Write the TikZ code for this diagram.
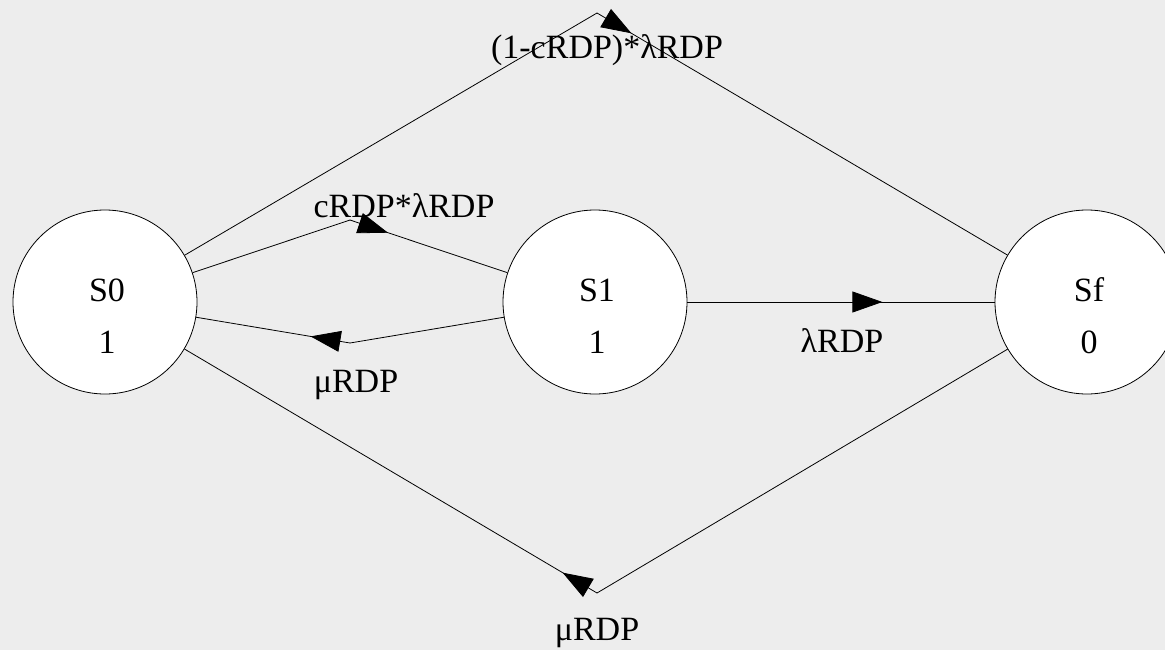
\documentclass[tikz,border=0pt]{standalone}
\usepackage{fontspec}
\setmainfont{Liberation Serif}
\usetikzlibrary{arrows.meta,decorations.markings}
\definecolor{bg}{RGB}{237,237,237}
\begin{document}
\begin{tikzpicture}[x=1pt,y=-1pt,
  state/.style={circle,draw=black,line width=0.8pt,fill=white,minimum size=184pt,inner sep=0pt},
  lbl/.style={font=\fontsize{34}{40}\selectfont,inner sep=0pt,anchor=base},
  edge/.style={draw=black,line width=0.8pt},
  tipmark/.style={postaction={decorate},decoration={markings,mark=at position #1 with {\arrow{Triangle[length=30pt,width=21pt]}}}},
  tipmark/.default=40pt
]
\fill[bg] (0,0) rectangle (1165,650);
\useasboundingbox (0,0) rectangle (1165,650);

\node[state] (S0) at (105,302) {};
\node[state] (S1) at (595,302) {};
\node[state] (Sf) at (1087,302) {};

\node[lbl] (S0name) at (107,301) {S0};
\node[lbl] (S0val) at (107,353) {1};
\node[lbl] (S1name) at (597,301) {S1};
\node[lbl] (S1val) at (597,353) {1};
\node[lbl] (Sfname) at (1089,301) {Sf};
\node[lbl] (Sfval) at (1089,353) {0};

\coordinate (a1) at (597,13);
\coordinate (a2) at (350,220);
\coordinate (a3) at (350,343);
\coordinate (a4) at (597,593);

\draw[edge] (S0) -- (a1);
\draw[edge,tipmark] (a1) -- (Sf);
\draw[edge] (S0) -- (a2);
\draw[edge,tipmark] (a2) -- (S1);
\draw[edge] (S1) -- (a3);
\draw[edge,tipmark] (a3) -- (S0);
\draw[edge] (Sf) -- (a4);
\draw[edge,tipmark] (a4) -- (S0);
\draw[edge,tipmark=195pt] (S1) -- (Sf);

\node[lbl] (l1) at (607,59) {(1-cRDP)*λRDP};
\node[lbl] (l2) at (404,217) {cRDP*λRDP};
\node[lbl] (l3) at (356,392) {μRDP};
\node[lbl] (l4) at (842,352) {λRDP};
\node[lbl] (l5) at (597,640) {μRDP};
\end{tikzpicture}
\end{document}
